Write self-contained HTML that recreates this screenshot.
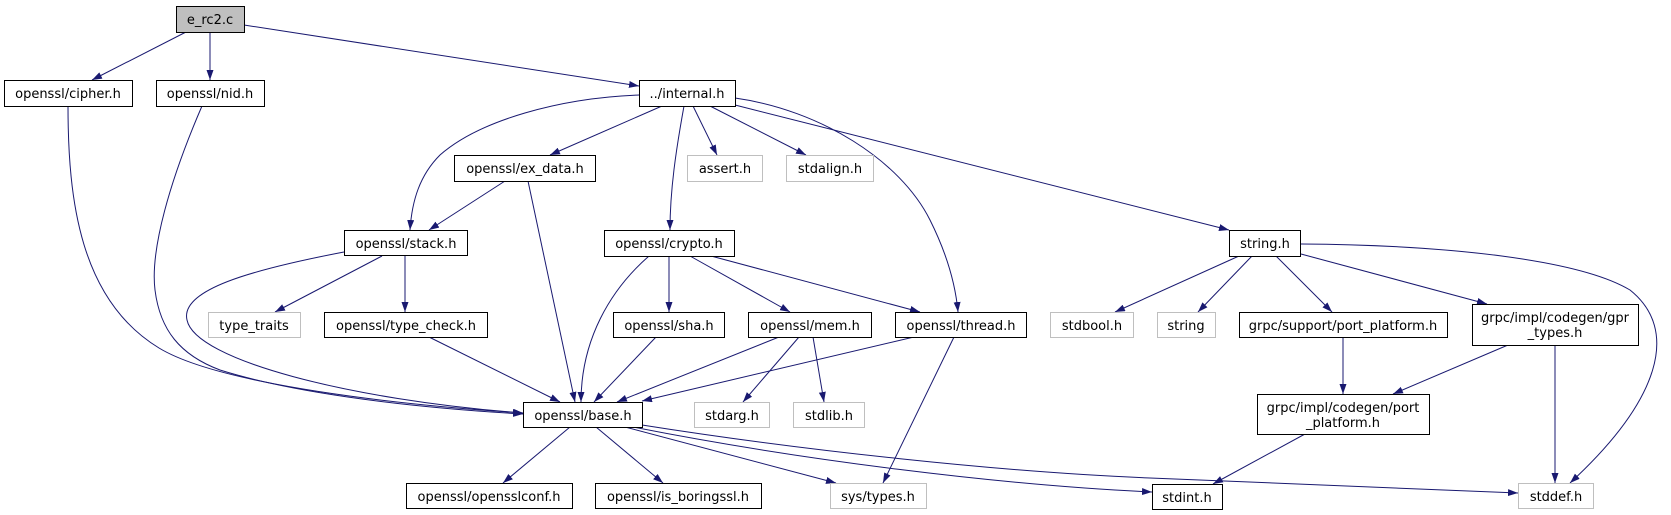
<!DOCTYPE html>
<html><head><meta charset="utf-8"><style>
html,body{margin:0;padding:0;background:#fff;}
svg{display:block;}
text{font-family:"DejaVu Sans","Liberation Sans",sans-serif;font-size:13px;fill:#000;text-anchor:middle;}
.b{fill:#fff;stroke:#000;stroke-width:1;}
.g{fill:#fff;stroke:#bfbfbf;stroke-width:1;}
.e{fill:none;stroke:#191970;stroke-width:1;}
</style></head><body>
<svg width="1671" height="515" viewBox="0 0 1671 515" xmlns="http://www.w3.org/2000/svg">
<defs><marker id="a" markerUnits="userSpaceOnUse" markerWidth="11" markerHeight="8" refX="10" refY="3.5" orient="auto"><path d="M0,0 L10,3.5 L0,7 z" fill="#191970"/></marker></defs>
<g class="e" marker-end="url(#a)">
<path d="M186,32 L92,80"/>
<path d="M210,32 L210,80"/>
<path d="M244,25 L639,86"/>
<path d="M68,106 C68,200 80,300 159,348 C220,385 400,405 523,413"/>
<path d="M202,106 C170,180 150,250 155,290 C160,330 180,355 220,370 C300,395 420,408 523,414"/>
<path d="M344,252 C250,270 180,290 187,320 C195,360 350,400 523,413"/>
<path d="M639,95 C560,98 480,120 440,155 C420,175 412,200 410,230"/>
<path d="M662,106 L550,155"/>
<path d="M684,106 C676,150 670,190 670,230"/>
<path d="M693,106 L717,155"/>
<path d="M710,106 L806,155"/>
<path d="M735,98 C820,110 900,160 930,220 C950,260 956,290 958,312"/>
<path d="M735,105 L1229,230"/>
<path d="M505,181 L429,230"/>
<path d="M528,181 L575,402"/>
<path d="M382,256 L275,312"/>
<path d="M405,256 L405,312"/>
<path d="M429,337 L560,402"/>
<path d="M649,256 C610,290 581,340 581,402"/>
<path d="M669,256 L669,312"/>
<path d="M690,256 L790,312"/>
<path d="M711,256 L920,312"/>
<path d="M656,337 L594,402"/>
<path d="M779,337 L617,402"/>
<path d="M799,337 L743,402"/>
<path d="M813,337 L824,402"/>
<path d="M914,337 L642,401"/>
<path d="M954,337 L883,483"/>
<path d="M570,427 L503,483"/>
<path d="M596,427 L663,483"/>
<path d="M625,427 L836,483"/>
<path d="M633,427 C800,460 1000,485 1152,492"/>
<path d="M642,425 C800,450 1000,472 1150,478 L1518,493"/>
<path d="M1239,256 L1115,312"/>
<path d="M1252,256 L1198,312"/>
<path d="M1276,256 L1332,312"/>
<path d="M1301,254 L1487,304"/>
<path d="M1301,244 C1450,245 1580,260 1630,290 C1680,330 1660,400 1570,483"/>
<path d="M1343,337 L1343,394"/>
<path d="M1508,345 L1393,394"/>
<path d="M1555,345 L1555,483"/>
<path d="M1305,434 L1213,484"/>
</g>
<rect x="176.5" y="6.5" width="68" height="26" fill="#bfbfbf" stroke="#000"/><text x="210" y="24">e_rc2.c</text>
<rect class="b" x="4.5" y="80.5" width="128" height="26"/><text x="68" y="98">openssl/cipher.h</text>
<rect class="b" x="156.5" y="80.5" width="108" height="26"/><text x="210" y="98">openssl/nid.h</text>
<rect class="b" x="639.5" y="80.5" width="96" height="26"/><text x="687" y="98">../internal.h</text>
<rect class="b" x="454.5" y="155.5" width="141" height="26"/><text x="525" y="173">openssl/ex_data.h</text>
<rect class="g" x="687.5" y="155.5" width="75" height="26"/><text x="725" y="173">assert.h</text>
<rect class="g" x="786.5" y="155.5" width="87" height="26"/><text x="830" y="173">stdalign.h</text>
<rect class="b" x="344.5" y="230.5" width="123" height="25"/><text x="406" y="248">openssl/stack.h</text>
<rect class="b" x="604.5" y="230.5" width="130" height="26"/><text x="669" y="248">openssl/crypto.h</text>
<rect class="b" x="1229.5" y="230.5" width="71" height="26"/><text x="1265" y="248">string.h</text>
<rect class="g" x="208.5" y="312.5" width="92" height="25"/><text x="254" y="330">type_traits</text>
<rect class="b" x="324.5" y="312.5" width="163" height="25"/><text x="406" y="330">openssl/type_check.h</text>
<rect class="b" x="613.5" y="312.5" width="111" height="25"/><text x="669" y="330">openssl/sha.h</text>
<rect class="b" x="748.5" y="312.5" width="123" height="25"/><text x="810" y="330">openssl/mem.h</text>
<rect class="b" x="895.5" y="312.5" width="131" height="25"/><text x="961" y="330">openssl/thread.h</text>
<rect class="g" x="1050.5" y="312.5" width="83" height="25"/><text x="1092" y="330">stdbool.h</text>
<rect class="g" x="1157.5" y="312.5" width="58" height="25"/><text x="1186" y="330">string</text>
<rect class="b" x="1239.5" y="312.5" width="208" height="25"/><text x="1343" y="330">grpc/support/port_platform.h</text>
<rect class="b" x="1472.5" y="304.5" width="166" height="41"/><text x="1555" y="322">grpc/impl/codegen/gpr</text><text x="1555" y="337">_types.h</text>
<rect class="b" x="523.5" y="402.5" width="119" height="25"/><text x="583" y="420">openssl/base.h</text>
<rect class="g" x="694.5" y="402.5" width="75" height="25"/><text x="732" y="420">stdarg.h</text>
<rect class="g" x="793.5" y="402.5" width="71" height="25"/><text x="829" y="420">stdlib.h</text>
<rect class="b" x="1257.5" y="394.5" width="172" height="40"/><text x="1343" y="412">grpc/impl/codegen/port</text><text x="1343" y="427">_platform.h</text>
<rect class="b" x="406.5" y="483.5" width="166" height="25"/><text x="489" y="501">openssl/opensslconf.h</text>
<rect class="b" x="595.5" y="483.5" width="166" height="25"/><text x="678" y="501">openssl/is_boringssl.h</text>
<rect class="g" x="830.5" y="483.5" width="96" height="25"/><text x="878" y="501">sys/types.h</text>
<rect class="b" x="1152.5" y="484.5" width="70" height="25"/><text x="1187" y="502">stdint.h</text>
<rect class="g" x="1518.5" y="483.5" width="75" height="25"/><text x="1556" y="501">stddef.h</text>
</svg>
</body></html>
